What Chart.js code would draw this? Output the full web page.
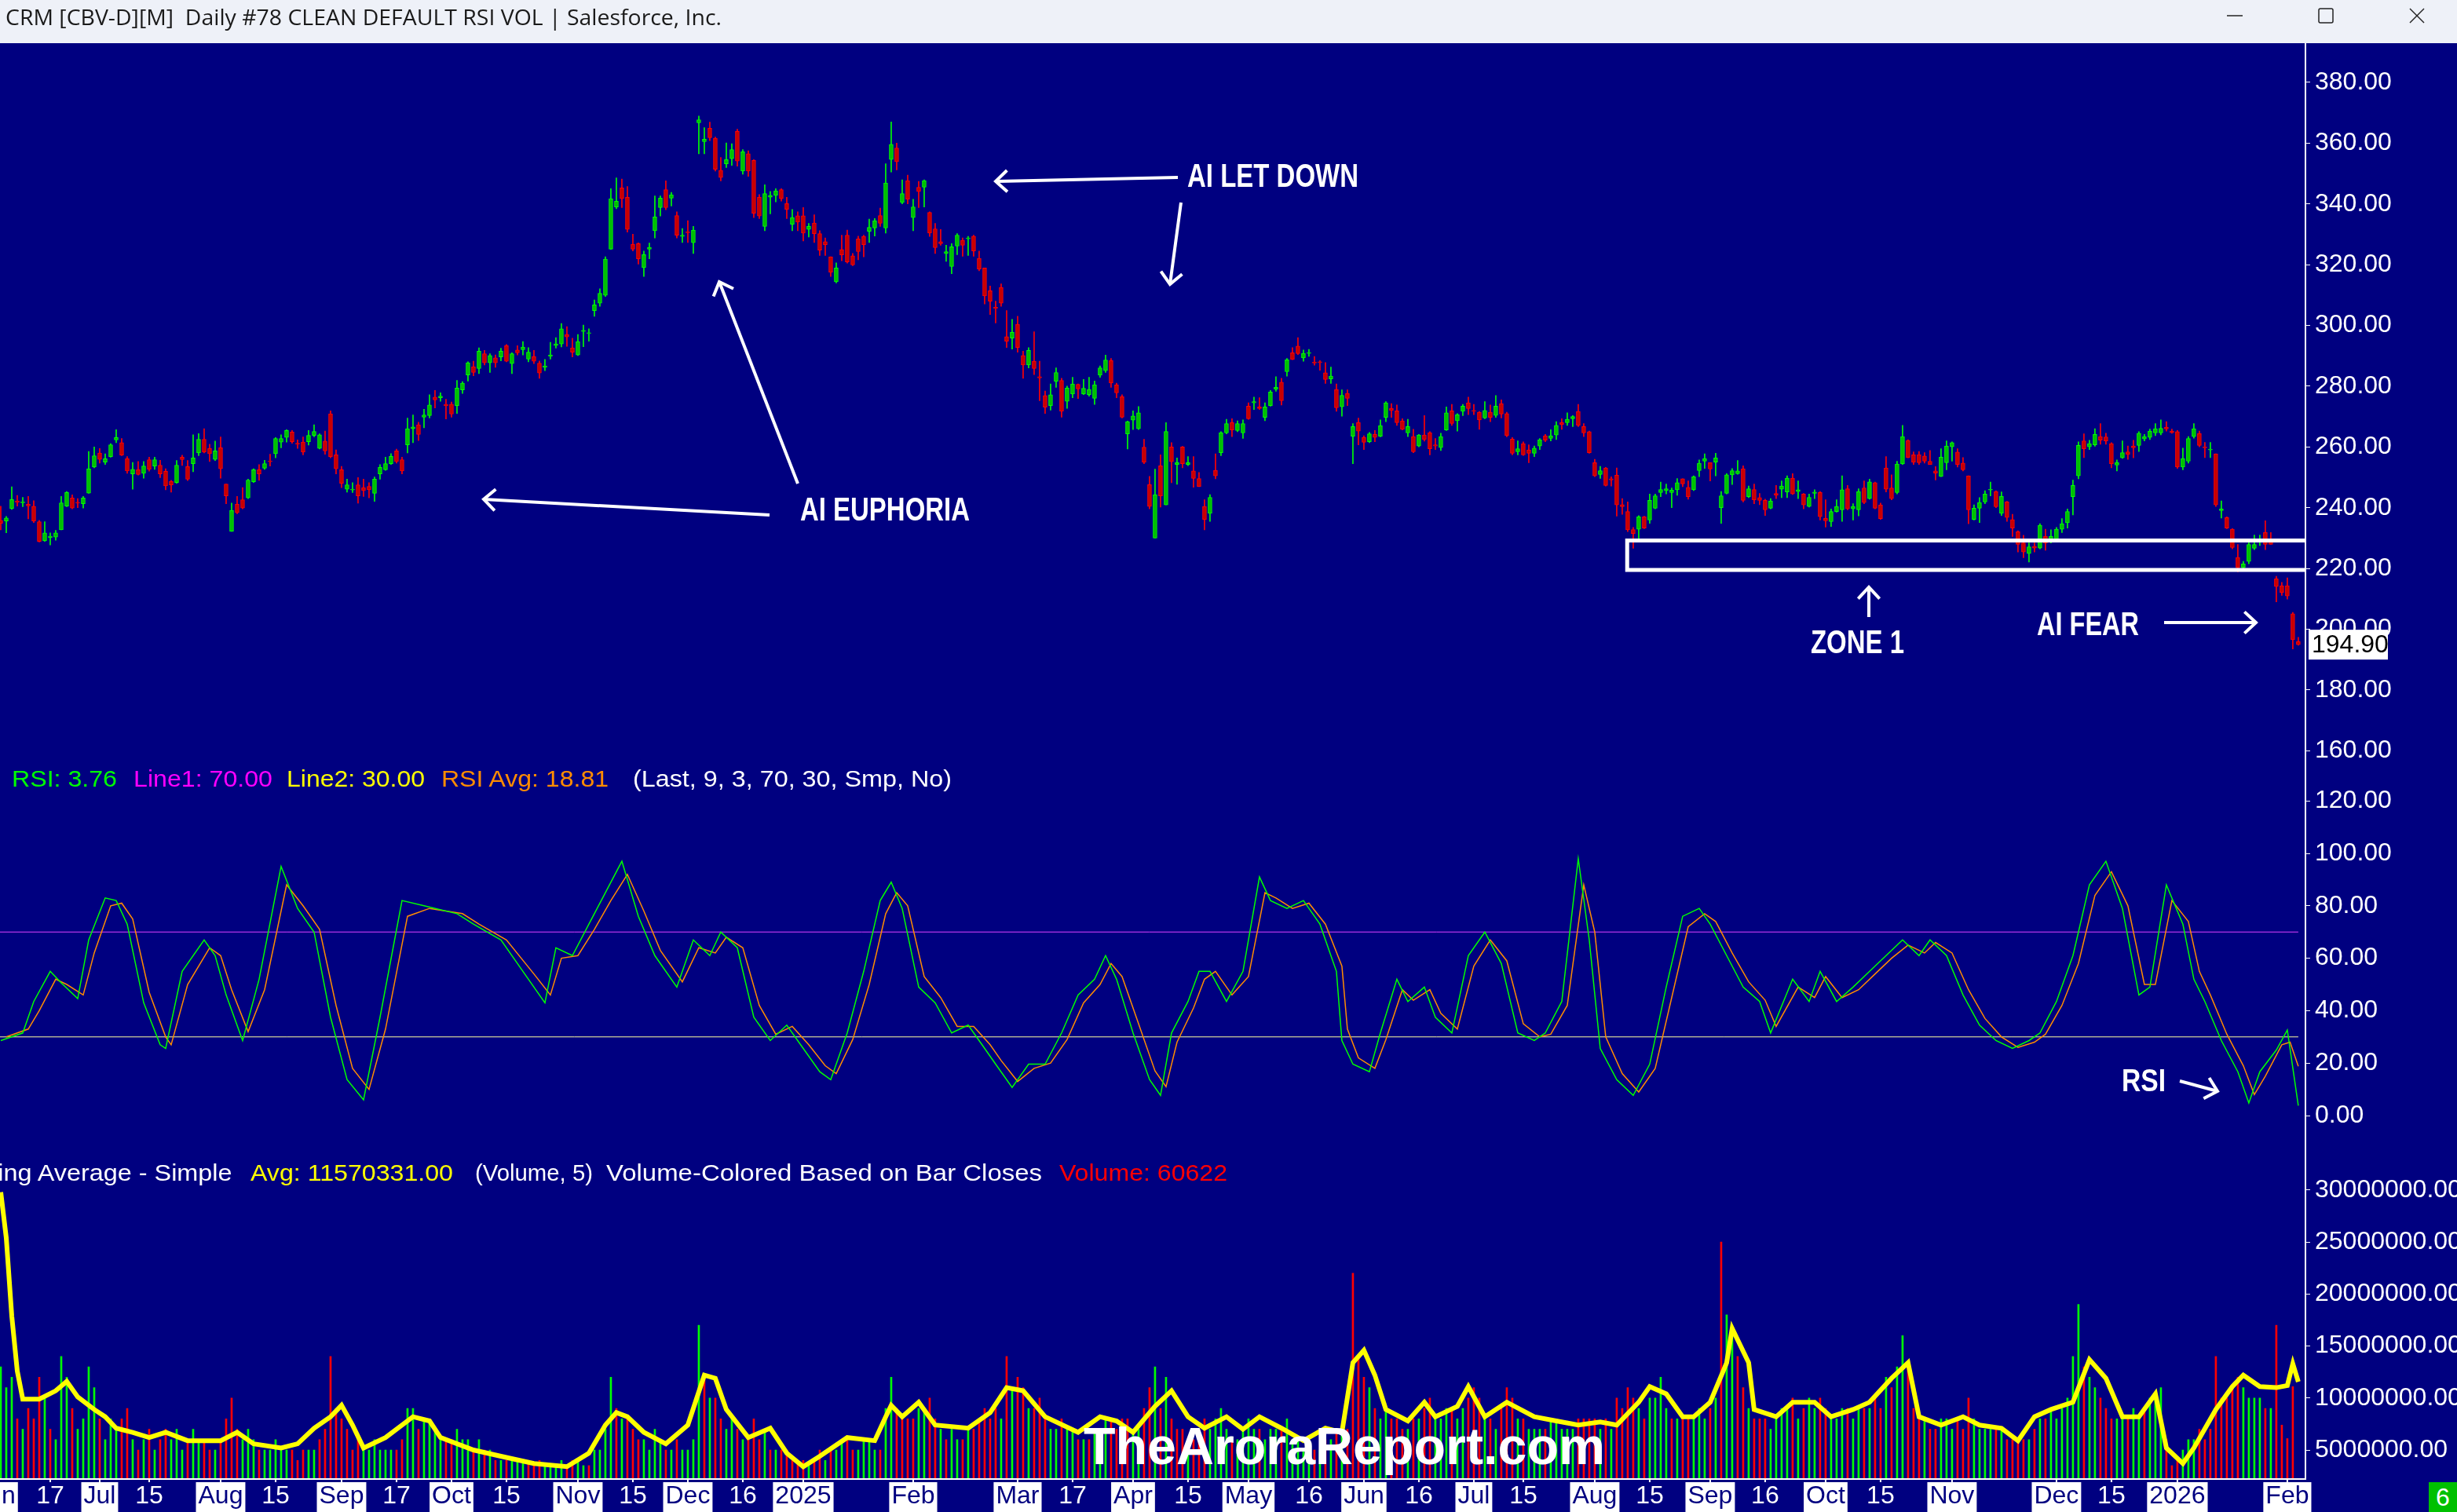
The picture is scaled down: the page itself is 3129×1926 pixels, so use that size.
<!DOCTYPE html>
<html><head><meta charset="utf-8">
<script src="https://cdn.jsdelivr.net/npm/chart.js@4.4.1/dist/chart.umd.min.js"></script>
<style>
html,body{margin:0;padding:0;}
body{width:3129px;height:1926px;background:#000080;overflow:hidden;position:relative;}
#bar{position:absolute;left:0;top:0;width:3129px;height:55px;background:#eef1f8;}
canvas{position:absolute;left:0;}
.t{position:absolute;white-space:pre;transform-origin:0 0;z-index:6;}
#ov{position:absolute;left:0;top:0;z-index:5;}
</style></head>
<body>
<div id="bar"></div>
<canvas id="cP" width="3129" height="925" style="top:55px"></canvas>
<canvas id="cR" width="3129" height="490" style="top:980px"></canvas>
<canvas id="cV" width="3129" height="456" style="top:1470px"></canvas>
<svg id="ov" width="3129" height="1926" xmlns="http://www.w3.org/2000/svg"></svg>
<script>
// ================= DATA =================
const open = [
235.8,235.6,239.7,242.2,241.6,241.1,240.5,235.4,229.1,230.2,
230.3,232.7,240.5,243.2,241.8,241.3,244.8,253.4,258.0,255.0,
256.8,262.3,261.4,256.1,251.1,252.5,251.3,255.8,253.7,254.0,
252.0,248.7,248.3,256.6,253.5,254.5,258.0,262.5,259.5,255.9,
259.7,247.8,232.2,241.1,242.6,243.2,248.5,252.5,253.0,255.4,
257.8,261.6,263.1,264.9,261.2,261.6,261.7,263.8,259.5,261.9,
270.9,257.4,252.5,246.1,245.8,247.5,246.6,247.0,244.7,251.1,
252.5,254.5,258.7,255.8,260.7,266.0,267.3,269.8,270.3,276.4,
276.2,274.0,274.1,273.6,278.8,283.7,286.4,285.8,290.7,287.7,
289.3,289.6,293.3,287.4,291.9,292.0,288.9,289.8,287.6,286.2,
289.9,293.4,293.9,297.0,292.6,290.3,298.0,297.3,304.9,307.3,
309.9,325.1,339.0,345.3,342.2,326.7,326.9,319.0,325.1,331.2,
338.8,344.7,341.9,336.2,329.3,330.8,327.2,366.7,360.5,364.9,
361.6,351.1,353.2,354.9,363.9,350.8,356.5,354.3,342.2,332.6,
342.2,342.8,344.7,340.1,333.3,336.1,336.1,331.6,333.7,330.2,
327.6,322.6,314.4,325.0,329.7,322.9,328.5,329.3,331.0,332.1,
336.2,332.1,354.6,358.4,340.5,347.7,335.5,345.5,345.5,337.2,
331.8,327.6,323.7,319.4,326.1,328.0,328.5,329.4,322.1,318.9,
311.4,306.0,312.5,296.3,295.8,300.4,290.1,287.0,288.2,283.1,
276.9,273.6,281.6,281.9,275.0,277.4,280.6,277.4,277.2,276.0,
283.6,285.1,288.4,280.5,276.5,264.3,268.8,266.0,259.9,247.6,
230.0,253.8,240.9,260.0,254.2,260.0,254.2,252.1,249.6,240.4,
238.1,252.3,258.1,264.6,268.0,265.4,264.6,273.4,274.5,273.2,
269.7,273.6,279.0,281.3,284.8,291.0,293.2,289.3,290.8,287.9,
288.0,284.4,282.4,278.9,273.2,277.6,263.5,268.0,263.1,261.7,
264.1,263.5,269.7,272.7,271.9,268.6,264.6,263.4,260.3,263.9,
264.7,260.7,259.8,265.6,271.9,268.6,271.7,274.5,272.0,271.4,
269.5,271.4,270.4,274.3,271.0,262.6,258.4,261.1,259.0,257.9,
260.3,263.7,262.8,263.9,268.0,268.0,269.3,271.7,266.7,265.0,
254.8,250.9,253.1,249.5,250.7,241.0,238.7,232.8,232.9,237.0,
235.9,239.8,245.0,245.6,245.0,245.9,249.5,246.7,245.9,252.2,
255.3,254.8,255.0,240.0,244.7,250.8,251.2,252.8,243.6,246.0,
243.3,242.4,239.8,244.7,246.1,245.2,249.7,245.3,244.5,240.4,
244.7,245.0,236.5,235.4,238.7,239.3,246.2,239.6,239.3,246.5,
243.0,248.2,240.9,253.1,246.5,245.0,254.4,262.1,257.5,257.5,
257.0,255.3,252.1,250.3,254.8,260.0,258.3,254.7,250.5,236.1,
239.8,241.9,245.8,245.3,238.1,241.9,236.1,232.1,228.4,224.9,
227.3,226.7,230.5,229.7,229.5,232.9,235.0,243.6,250.5,262.0,
260.0,260.7,263.4,263.3,261.1,254.0,256.4,258.4,260.3,260.5,
262.6,263.1,264.6,264.6,266.5,265.2,265.0,253.4,255.3,263.4,
264.4,260.0,259.0,257.7,239.0,236.7,232.9,223.6,220.2,222.3,
226.6,228.6,231.8,229.7,216.6,214.3,214.3,205.1,195.9];
const high = [
240.5,237.1,246.9,244.0,243.4,243.7,242.3,235.8,235.4,231.7,
232.5,243.7,245.3,244.2,243.0,243.7,258.5,260.0,259.5,257.7,
261.1,265.7,262.8,256.8,254.9,255.2,255.2,256.6,256.6,255.6,
252.8,249.0,255.5,257.3,255.5,264.0,264.4,266.0,260.9,261.9,
263.3,247.8,241.5,243.7,246.6,249.4,252.8,254.2,255.6,257.6,
263.1,264.0,265.7,265.4,262.3,263.3,265.4,267.3,264.3,265.2,
271.9,259.0,253.6,249.4,248.2,249.9,249.4,248.2,250.1,254.2,
256.6,257.8,259.3,256.6,269.5,270.5,268.1,272.4,277.2,278.6,
277.8,275.7,274.8,281.9,281.5,288.0,288.2,292.6,291.8,290.7,
290.3,292.5,293.7,291.0,293.3,294.7,292.7,291.8,288.3,288.8,
294.4,296.0,300.6,299.6,295.8,297.0,300.1,298.9,308.4,312.1,
322.6,345.0,348.6,348.2,345.7,330.0,327.2,324.5,327.1,342.6,
342.6,347.6,343.8,337.4,331.9,334.5,332.6,368.9,365.1,366.9,
362.0,355.3,360.1,359.8,364.6,357.9,357.5,354.6,343.1,346.3,
344.1,345.0,345.0,342.2,338.2,337.4,338.8,333.6,336.4,331.2,
328.8,322.6,320.6,329.7,331.4,323.7,329.4,329.7,335.0,335.2,
338.6,353.2,367.0,360.0,347.9,349.5,341.5,347.4,347.9,337.4,
333.6,331.6,326.4,326.9,330.2,328.8,329.3,329.7,324.5,318.9,
313.0,308.0,313.7,304.9,302.0,303.0,291.5,292.7,297.9,288.2,
278.4,280.7,286.0,282.6,280.0,282.9,280.7,282.2,282.9,281.7,
286.7,290.2,289.1,281.0,277.2,268.5,271.9,273.3,262.5,250.3,
252.7,257.4,268.0,261.4,256.4,260.2,256.8,256.8,251.6,242.6,
244.3,257.7,265.0,269.1,269.3,268.6,268.9,274.5,276.4,276.2,
274.5,278.6,283.1,282.6,289.1,292.7,296.0,291.9,292.1,289.8,
288.4,287.8,286.3,280.7,278.8,278.8,267.7,269.5,263.7,264.8,
265.4,268.9,274.9,274.3,273.8,269.3,269.1,265.8,264.1,270.3,
265.0,262.8,264.5,273.2,274.0,271.0,274.0,276.4,274.0,271.7,
274.9,273.8,276.9,275.5,271.4,263.1,262.0,261.7,260.7,260.3,
262.8,264.1,265.7,268.3,269.3,271.2,270.3,274.0,267.7,265.2,
255.9,253.6,253.3,250.2,253.1,243.0,241.9,233.5,237.4,237.2,
244.5,244.5,248.4,247.8,246.5,249.6,249.5,248.8,250.5,255.7,
257.7,254.8,257.9,245.3,251.2,252.9,255.5,253.8,247.1,247.8,
244.7,242.8,243.0,247.3,248.8,250.5,251.2,248.8,244.7,244.5,
245.9,245.3,242.6,239.6,242.6,250.5,247.3,241.3,246.2,248.8,
249.4,248.4,241.5,256.8,250.8,255.3,267.1,262.4,258.4,258.5,
258.1,258.8,253.5,259.4,262.0,261.7,259.4,256.5,250.5,240.9,
243.3,245.6,248.4,245.6,245.2,242.1,237.8,232.4,230.9,228.4,
228.4,234.7,232.9,232.7,233.5,236.4,239.6,249.1,261.7,264.3,
262.2,266.0,267.7,264.5,261.4,255.7,262.0,260.3,262.2,265.0,
264.1,265.9,267.7,268.9,268.3,265.9,265.4,259.6,263.4,267.7,
265.2,261.5,261.5,257.7,242.2,237.0,233.1,227.9,222.3,228.8,
231.0,231.0,235.7,231.8,217.4,215.4,216.9,205.5,197.3];
const low = [
232.7,231.7,239.4,240.5,240.3,236.3,235.1,228.7,228.9,227.7,
229.3,232.7,240.3,239.6,240.0,239.9,244.7,253.1,254.7,254.2,
256.6,261.4,257.1,251.3,246.1,250.7,249.7,252.0,252.6,249.9,
245.9,245.1,248.0,253.9,248.9,251.8,257.1,258.0,255.2,255.5,
249.7,241.3,232.2,238.0,239.6,243.0,248.3,249.0,252.6,253.7,
256.4,259.7,261.6,261.2,259.5,257.4,260.6,263.3,259.3,257.6,
256.4,251.1,246.6,245.1,245.0,241.5,243.7,243.2,242.1,249.4,
252.3,254.2,254.7,251.1,258.0,261.4,262.1,266.3,269.5,272.8,
275.0,269.2,269.8,271.0,277.6,281.7,283.4,284.1,287.0,284.5,
286.2,288.3,288.0,284.1,290.3,290.3,288.0,287.4,282.6,285.1,
288.9,292.5,292.9,293.1,289.6,290.1,293.0,294.8,303.0,306.3,
309.5,325.0,338.4,338.8,330.7,324.5,320.2,316.1,321.9,328.8,
336.0,338.1,339.3,328.8,327.3,327.3,323.7,356.5,356.5,360.8,
350.8,347.6,352.0,352.7,352.4,349.8,349.1,335.5,335.2,331.2,
336.7,340.7,340.9,335.2,331.2,331.2,327.8,329.1,327.3,323.0,
323.0,316.1,314.0,321.3,320.5,319.7,321.6,322.6,327.3,329.4,
332.6,330.4,350.5,351.2,340.0,340.0,331.2,338.8,339.0,329.3,
323.7,326.4,321.1,317.0,323.3,322.8,323.0,322.8,318.0,307.1,
303.6,300.8,306.3,292.7,292.2,291.2,282.6,286.0,283.8,275.2,
271.0,272.1,279.6,269.8,272.7,276.2,275.9,277.2,276.7,274.0,
282.9,284.5,279.6,276.2,269.5,259.3,265.7,265.7,254.5,239.6,
230.0,240.2,240.9,248.2,247.7,253.1,253.8,246.7,246.9,232.7,
235.5,249.5,257.1,264.3,263.4,265.0,262.8,269.1,272.3,272.3,
268.6,273.4,278.3,273.8,283.3,288.7,290.4,288.2,289.8,286.9,
285.2,280.9,280.9,271.7,270.1,273.6,254.5,260.7,259.1,261.4,
261.7,263.3,268.3,269.7,267.1,265.6,263.4,258.1,260.0,261.9,
257.4,259.1,258.8,265.4,267.1,265.2,270.3,270.6,270.6,265.8,
269.3,268.3,269.7,269.5,263.3,257.4,257.4,257.2,254.8,256.8,
259.1,261.7,262.0,262.4,265.8,267.1,266.7,266.7,263.4,257.9,
250.2,249.6,247.1,247.1,237.2,237.8,232.1,226.6,229.8,233.1,
234.8,239.6,243.6,244.5,240.0,244.1,246.9,242.8,245.6,250.2,
252.9,248.8,250.5,234.8,244.5,247.6,251.0,241.9,243.3,241.3,
241.0,237.4,239.6,243.0,243.3,243.3,244.3,243.0,239.6,240.2,
243.0,235.9,233.6,233.8,238.5,235.5,239.3,235.9,237.3,241.3,
242.8,239.6,236.1,245.2,242.6,244.5,254.2,256.4,254.2,254.2,
254.7,254.2,249.1,250.2,252.5,255.3,253.4,252.1,234.7,235.9,
235.1,241.3,243.9,240.0,237.4,235.5,230.5,225.4,223.5,222.1,
225.4,226.4,226.0,228.4,228.8,231.8,233.3,237.6,249.5,256.5,
259.1,260.2,260.9,260.9,253.1,252.1,256.2,255.9,256.4,258.5,
262.0,262.4,263.7,264.0,265.2,264.5,252.9,252.5,254.7,262.9,
260.0,256.5,256.5,240.4,236.6,233.1,226.4,218.9,219.5,221.5,
226.2,227.5,226.2,227.9,209.0,211.1,209.9,193.5,194.7];
const close = [
234.8,236.6,242.7,241.8,241.9,240.6,235.6,228.9,231.7,230.6,
231.7,241.6,245.0,239.9,241.5,243.2,252.8,257.1,255.9,256.1,
260.7,263.1,257.3,252.1,252.6,250.9,253.7,252.6,255.8,251.1,
247.2,247.5,254.0,255.8,249.4,256.4,262.5,258.3,257.8,258.7,
252.8,243.9,239.1,238.3,239.9,249.1,252.5,251.1,254.5,255.1,
262.8,262.8,265.4,261.7,260.9,258.3,263.8,265.1,264.0,258.7,
256.8,252.8,248.0,247.5,246.1,243.9,245.6,245.9,249.4,253.3,
254.5,256.9,255.2,252.1,266.0,266.6,264.1,270.5,273.8,275.5,
276.7,273.6,270.8,279.4,281.0,287.7,284.5,291.5,287.7,290.1,
287.7,291.5,288.2,290.7,291.0,292.9,291.2,288.2,284.3,286.7,
290.3,293.9,298.9,296.2,291.2,294.7,298.4,297.6,306.8,310.6,
321.8,341.7,340.9,341.7,331.6,325.1,321.9,323.3,325.7,335.7,
341.9,338.8,343.0,329.7,329.7,330.5,331.4,367.7,361.3,361.8,
351.4,348.7,354.6,357.9,354.1,357.2,350.8,336.9,336.0,343.4,
342.8,344.3,341.7,338.2,335.5,334.0,330.4,332.6,330.2,324.8,
326.6,317.5,318.9,323.2,320.9,319.9,324.3,326.6,332.3,334.5,
333.6,346.9,359.6,353.9,343.4,341.5,339.0,344.1,347.7,330.4,
325.6,326.9,324.3,325.9,329.7,326.4,328.8,324.5,318.5,309.7,
308.0,305.6,307.3,294.8,297.7,292.7,287.0,291.8,285.8,282.7,
273.1,277.2,284.5,271.7,279.4,280.7,279.1,279.3,278.9,280.5,
286.0,288.6,281.0,277.8,269.8,268.3,270.2,271.2,254.9,240.4,
244.3,243.9,265.1,255.1,254.8,254.5,254.8,249.6,247.0,236.1,
243.4,250.5,264.7,267.7,265.6,267.7,267.7,269.3,274.9,272.6,
273.2,278.1,279.6,275.2,288.7,288.8,290.7,290.8,291.1,287.6,
287.8,282.2,283.3,272.9,277.0,276.0,266.7,265.2,261.5,264.3,
263.1,267.0,274.5,272.0,268.0,265.8,266.7,258.4,263.9,262.4,
259.4,260.3,263.4,271.2,267.7,270.6,273.4,272.6,271.7,268.9,
272.0,269.7,273.4,270.8,263.7,257.9,259.4,257.4,257.9,259.6,
262.4,262.2,263.7,267.1,267.4,269.1,270.0,267.1,264.6,258.1,
250.5,252.2,247.3,249.1,240.9,240.3,232.7,231.5,237.0,233.3,
242.4,243.9,246.0,246.2,245.8,248.2,247.8,243.6,250.2,254.6,
256.2,252.7,256.4,243.9,250.8,252.2,252.1,242.4,246.2,242.6,
242.4,239.3,242.2,244.1,247.1,249.7,244.5,245.9,240.9,243.4,
245.1,237.0,235.7,238.7,240.4,245.9,239.6,240.4,245.3,241.7,
248.5,239.8,236.4,246.1,243.0,254.4,263.4,256.5,254.9,254.8,
255.3,254.2,251.4,256.6,260.3,261.4,254.2,252.5,239.3,239.8,
241.7,244.5,246.0,240.3,243.7,236.8,233.3,227.9,225.4,227.1,
226.7,234.2,228.4,230.5,232.9,234.7,238.7,247.3,260.5,259.4,
261.1,264.1,262.2,262.0,254.5,254.8,258.1,257.5,259.7,264.5,
263.4,265.2,266.0,266.1,265.9,264.7,253.4,256.2,262.8,266.0,
260.5,259.7,259.2,240.9,239.6,233.3,226.9,220.2,221.5,227.9,
227.9,228.8,227.9,227.9,214.0,212.0,210.9,196.5,194.9];
// volume in millions of shares
const volumeM = [
13,11,12,8,7,9,8,12,10,7,
6,14,12,9,7,8,13,11,8,6,
8,7,8,9,6,5,6,7,5,6,
7,6,7,5,6,7,6,6,5,5,
6,8,10,7,6,7,6,5,5,5,
6,5,5,5,4,5,5,5,6,7,
14,9,8,7,5,6,5,5,6,5,
5,5,5,6,9,9,7,8,8,7,
6,6,6,7,6,6,5,6,5,5,
4,4,4,4,4,4,4,3.5,4,3.5,
3.5,3.5,4,3.5,4,4,3.5,3.5,5,5,
7,12,9,8,8,7,6,6,5,7,
6,5,5,6,5,5,6,17,12,10,
10,8,7,8,7,6,6,8,6,7,
5,5,5,5,4,4,4,3.5,4,5,
4,5,5,6,6,5,5,6,6,5,
5,9,12,9,8,8,8,9,9,10,
8,7,6,7,6,6,7,7,8,9,
8,9,8,14,11,12,11,9,9,10,
8,7,7,8,7,7,6,6,6,7,
7,8,8,7,8,8,7,7,9,11,
13,9,12,8,7,7,6,6,7,8,
7,8,9,7,6,6,7,8,7,7,
6,7,7,7,8,6,6,5,5,5,
5,6,6,7,7,7,22,14,12,11,
9,8,9,8,8,7,7,8,8,9,
10,8,8,9,9,8,9,10,11,10,
8,8,7,9,11,10,8,8,7,7,
7,7,8,8,7,7,7,8,8,8,
8,7,8,7,10,9,11,10,9,8,
10,10,12,9,8,8,8,8,8,9,
8,9,10,25,18,16,14,11,9,8,
8,8,7,8,9,9,10,8,9,10,
9,10,9,8,8,9,9,8,9,9,
9,10,9,12,11,13,16,13,9,8,
8,7,7,8,8,7,8,7,10,8,
7,7,7,7,7,6,6,6,6,6,
7,8,8,9,8,9,10,14,19,13,
12,11,10,9,8,8,8,8,9,8,
9,10,10,11,6,3.5,4,5,6,6,
7,6,7,14,10,10,11,12,11,10,
10,10,9,9,17,7.4,6.1,11.1,0.06];
// RSI (bar index, value)
const rsiPts = [[0,28.6],[4,31.5],[6,43.5],[9,55],[11,50.6],[14,44.6],[16,67],[19,83],[21,82],[23,73],[26,43],[29,27],[30,25.6],[33,55],[37,67],[39,61],[41,46],[44,28.6],[47,52],[51,95],[54,79],[57,70],[60,37.5],[63,13.7],[66,6],[69,37.5],[73,82],[77,80],[83,77],[86,73],[91,67],[96,52],[99,43],[101,64],[104,61],[107,73],[110,85],[113,97],[116,76],[119,61],[123,49],[126,67],[129,61],[131,70],[134,64],[137,37.5],[140,28.6],[143,34.5],[146,25.6],[149,16.7],[151,13.7],[154,31.5],[157,55],[160,82],[162,89],[164,79],[167,49],[170,43],[173,31.5],[176,34.5],[179,25.6],[181,19.6],[184,10.7],[187,19.6],[190,19.6],[193,31.5],[196,46],[199,52],[201,61],[203,52],[206,31.5],[209,13.7],[211,7.7],[213,31.5],[216,43.5],[218,55],[220,55],[223,43.5],[226,55],[229,91],[231,82],[234,79],[237,82],[240,73],[243,55],[244,28.6],[246,19.6],[249,16.7],[251,31.5],[254,52],[256,43.5],[259,49],[261,37.5],[264,31.5],[267,61],[270,70],[273,58],[276,31.5],[279,28.6],[281,31.5],[284,43.5],[287,98],[289,67],[291,25.6],[294,13.7],[297,7.7],[300,19.6],[303,49],[306,76],[309,79],[311,73],[314,61],[317,49],[320,43.5],[322,31.5],[326,52],[329,43.5],[331,55],[334,43.5],[337,49],[340,55],[343,61],[346,67],[349,61],[351,67],[354,61],[357,46],[360,34.5],[363,28.6],[366,25.6],[369,28.6],[371,31.5],[374,43.5],[377,61],[380,88],[383,97],[386,79],[389,46],[391,49],[394,88],[397,73],[399,52],[401,43.5],[404,28.6],[407,16.7],[409,4.8],[411,16.7],[414,25],[416,32.6],[418,3.76]];
const rsiAvgPts = [[1,30],[5,33],[7,40],[10,52],[12,50],[15,46],[17,62],[20,80],[22,81],[24,75],[27,47],[30,30],[31,27],[34,50],[38,64],[40,61],[42,48],[45,32],[48,48],[52,88],[55,80],[58,71],[61,42],[64,18],[67,10],[70,33],[74,76],[78,79],[84,77],[87,73],[92,67],[97,54],[100,46],[102,60],[105,61],[108,71],[111,82],[114,92],[117,78],[120,63],[124,51],[127,64],[130,62],[132,68],[135,64],[138,42],[141,31],[144,34],[147,27],[150,19],[152,16],[155,29],[158,50],[161,77],[163,85],[165,80],[168,53],[171,45],[174,34],[177,34],[180,27],[182,21],[185,13],[188,18],[191,20],[194,29],[197,43],[200,50],[202,58],[204,53],[207,35],[210,17],[212,11],[214,28],[217,41],[219,52],[221,55],[224,46],[227,53],[230,85],[232,83],[235,79],[238,81],[241,73],[244,57],[245,33],[247,22],[250,18],[252,29],[255,48],[257,44],[260,48],[262,39],[265,33],[268,57],[271,67],[274,59],[277,35],[280,30],[282,31],[285,42],[288,88],[290,70],[292,30],[295,16],[298,9],[301,18],[304,45],[307,72],[310,77],[312,74],[315,62],[318,51],[321,44],[323,34],[327,49],[330,45],[332,53],[335,45],[338,48],[341,54],[344,60],[347,65],[350,62],[352,66],[355,62],[358,48],[361,37],[364,30],[367,26],[370,28],[372,31],[375,42],[378,58],[381,84],[384,93],[387,80],[390,50],[392,50],[395,82],[398,74],[400,55],[402,46],[405,31],[408,19],[410,8],[412,15],[415,27],[416.5,28],[418,18.81]];
// 5-bar volume average (bar index, millions)
const volMaPts = [[0,29.8],[1,25.4],[2,17.9],[3,12.6],[4,9.9],[7,9.9],[10,10.7],[12,11.6],[14,10.1],[17,8.9],[19,8.2],[21,7.1],[24,6.7],[27,6.2],[30,6.7],[34,5.9],[40,5.9],[43,6.7],[46,5.6],[51,5.2],[54,5.6],[57,7.1],[60,8.2],[62,9.3],[64,7.4],[66,5.2],[70,6.2],[75,8.2],[78,7.8],[80,6.2],[86,5.0],[91,4.4],[97,3.7],[103,3.4],[107,4.7],[110,7.4],[112,8.6],[114,8.2],[117,6.7],[121,5.6],[125,7.4],[128,12.2],[130,11.9],[132,8.9],[136,6.2],[140,7.1],[143,4.7],[146,3.4],[149,4.4],[154,6.2],[159,5.9],[161,8.2],[162,9.3],[164,8.2],[167,9.6],[170,7.4],[176,7.1],[180,8.6],[183,11],[186,10.7],[190,8.2],[196,6.7],[200,8.2],[203,7.8],[206,6.7],[210,9.2],[213,10.7],[216,8.2],[219,7.1],[223,8.2],[226,7.0],[229,8.2],[233,7.1],[237,5.9],[241,7.1],[244,6.7],[246,13.4],[248,14.6],[250,12.2],[252,8.9],[256,7.8],[259,9.6],[261,8.2],[265,9.2],[267,11.1],[270,8.2],[274,9.6],[279,8.2],[283,7.8],[287,7.4],[291,7.7],[294,7.4],[298,9.6],[300,11.1],[303,10.4],[306,8.2],[308,8.2],[311,9.6],[314,13.4],[315,16.7],[318,13.4],[319,8.9],[323,8.2],[326,9.6],[330,9.6],[333,8.2],[337,8.9],[340,9.6],[344,11.9],[347,13.4],[349,8.2],[353,7.4],[357,8.2],[360,7.4],[364,7.1],[367,5.9],[370,8.2],[373,8.9],[377,9.6],[380,13.7],[383,11.9],[386,8.2],[389,8.2],[392,10.4],[394,5.2],[397,3.7],[399,5.2],[403,8.9],[406,11.1],[408,12.2],[411,11.1],[414,11.0],[416,11.2],[417,13.3],[418,11.57]];
// time axis: bar index of each label and its text
const xTickIdx = [-1,9,18,27,40,50,62,72,82,92,105,115,125,135,146,166,185,195,206,216,227,238,248,258,268,277,290,300,311,321,332,342,355,374,384,396,416];
const xTickLbl = ["Jun","17","Jul","15","Aug","15","Sep","17","Oct","15","Nov","15","Dec","16","2025","Feb","Mar","17","Apr","15","May","16","Jun","16","Jul","15","Aug","15","Sep","16","Oct","15","Nov","Dec","15","2026","Feb"];
const priceTicks = [160,180,200,220,240,260,280,300,320,340,360,380];
const rsiTicks = [0,20,40,60,80,100,120];
const volTicksM = [5,10,15,20,25,30];
const rsiLevels = [70,30];
const zone = {fromIdx:295.9, lo:219.5, hi:229.2};

// ================= CHARTS =================
const XMIN=-0.14, XMAX=419.3;
const FONT='"Liberation Sans", Arial, sans-serif';
const GREEN='#00ff00', RED='#ff0000';
const N = close.length, idx = close.map((_,i)=>i);
const up = i => close[i] >= open[i];

function yAxis(min,max,ticks,fmt){
  return {position:'right',min:min,max:max,
    afterBuildTicks:s=>{s.ticks=ticks.map(v=>({value:v}));},
    afterFit:s=>{s.width=193;s.paddingTop=0;s.paddingBottom=0;},
    grid:{drawOnChartArea:false,drawTicks:true,tickLength:6,color:'#ffffff',lineWidth:1},
    border:{display:true,color:'#ffffff',width:2},
    ticks:{color:'#ffffff',font:{family:FONT,size:32},padding:6,callback:fmt,autoSkip:false}
  };
}
function opts(y,bottom){
  return {responsive:false,animation:false,devicePixelRatio:1,
    layout:{padding:{left:0,right:0,top:0,bottom:bottom||0}},
    plugins:{legend:{display:false},tooltip:{enabled:false}},
    scales:{x:{type:'linear',min:XMIN,max:XMAX,display:false,offset:false,grid:{offset:false},bounds:'data'},y:y}};
}
const f2 = v => Number(v).toFixed(2);

const pricePlugin = {id:'pp', afterDraw(chart){
  const {ctx,scales:{x,y},chartArea:ca}=chart;
  ctx.save();
  ctx.strokeStyle='#ffffff'; ctx.lineWidth=5;
  const x0=x.getPixelForValue(zone.fromIdx), yt=y.getPixelForValue(zone.hi), yb=y.getPixelForValue(zone.lo);
  ctx.beginPath(); ctx.moveTo(ca.right,yt); ctx.lineTo(x0,yt); ctx.lineTo(x0,yb); ctx.lineTo(ca.right,yb); ctx.stroke();
  const last=close[N-1], yl=y.getPixelForValue(last);
  ctx.fillStyle='#ffffff'; ctx.fillRect(ca.right+4, yl-19, 101, 38);
  ctx.fillStyle='#000000'; ctx.font='32px '+FONT; ctx.textBaseline='middle'; ctx.textAlign='left';
  ctx.fillText(last.toFixed(2), ca.right+8, yl+1);
  ctx.restore();
}};
new Chart(document.getElementById('cP'),{type:'bar',
  data:{datasets:[
    {order:0,grouped:false,barThickness:5,minBarLength:1,borderWidth:1,borderSkipped:false,
     data:idx.map(i=>({x:i,y:[Math.min(open[i],close[i]),Math.max(open[i],close[i])]})),
     backgroundColor:c=>c.dataIndex===undefined?'#00c000':(up(c.dataIndex)?'#00c000':'#c80000'),
     borderColor:c=>c.dataIndex===undefined?GREEN:(up(c.dataIndex)?GREEN:RED)},
    {order:1,grouped:false,barThickness:1,borderWidth:0,
     data:idx.map(i=>({x:i,y:[low[i],high[i]]})),
     backgroundColor:c=>c.dataIndex===undefined?GREEN:(up(c.dataIndex)?GREEN:RED)}
  ]},
  options:opts(yAxis(153.85,392.92,priceTicks,f2)),
  plugins:[pricePlugin]});

new Chart(document.getElementById('cR'),{type:'line',
  data:{datasets:[
    {order:0,data:rsiPts,borderColor:'#00ff00',borderWidth:1.5,pointRadius:0,tension:0},
    {order:1,data:rsiAvgPts,borderColor:'#ff8c00',borderWidth:1.5,pointRadius:0,tension:0},
    {order:2,data:[[XMIN,rsiLevels[0]],[N-1,rsiLevels[0]]],borderColor:'#e040ff',borderWidth:1,pointRadius:0},
    {order:3,data:[[XMIN,rsiLevels[1]],[N-1,rsiLevels[1]]],borderColor:'#ffffa0',borderWidth:1,pointRadius:0}
  ]},
  options:opts(yAxis(-14.67,132.04,rsiTicks,f2))});

const xAxisPlugin = {id:'xa', afterDraw(chart){
  const {ctx,scales:{x},chartArea:ca}=chart;
  ctx.save();
  ctx.fillStyle='#ffffff'; ctx.fillRect(0,ca.bottom-1,ca.right,2);
  ctx.font='32px '+FONT; ctx.textBaseline='middle'; ctx.textAlign='center';
  xTickIdx.forEach((ti,k)=>{
    const px=x.getPixelForValue(ti), lbl=xTickLbl[k];
    const isDay=/^\d{1,2}$/.test(lbl);
    const w=ctx.measureText(lbl).width;
    ctx.fillStyle='#ffffff'; ctx.fillRect(px-1,ca.bottom,2,5);
    ctx.fillStyle=isDay?'#000080':'#ffffff';
    ctx.fillRect(px-w/2-3,ca.bottom+4,w+6,38);
    ctx.fillStyle=isDay?'#ffffff':'#000080';
    ctx.fillText(lbl,px,ca.bottom+22);
  });
  ctx.restore();
}};
new Chart(document.getElementById('cV'),{type:'bar',
  data:{datasets:[
    {type:'line',order:0,data:volMaPts,borderColor:'#ffff00',borderWidth:6,pointRadius:0,tension:0},
    {order:1,grouped:false,barThickness:2,borderWidth:0,
     data:idx.map(i=>({x:i,y:volumeM[i]})),
     backgroundColor:c=>{const i=c.dataIndex; if(i===undefined)return GREEN; return (i===0||close[i]>=close[i-1])?GREEN:RED;}}
  ]},
  options:opts(yAxis(2.21,33.47,volTicksM,v=>(v*1e6).toFixed(2)),42),
  plugins:[xAxisPlugin]});

// ================= TEXT & ANNOTATIONS =================
function txt(s,left,cy,w,color,size,o){
  o=o||{};
  const d=document.createElement('div'); d.className='t'; d.textContent=s;
  d.style.left=left+'px'; d.style.top=(cy-size*0.55)+'px';
  d.style.fontSize=size+'px'; d.style.lineHeight=(size*1.1)+'px';
  d.style.color=color; d.style.fontFamily=o.family||FONT; d.style.fontWeight=o.weight||'normal';
  document.body.appendChild(d);
  const nat=d.getBoundingClientRect().width;
  const sc=w?w/nat:(o.scale||1);
  d.style.transform='scaleX('+sc+')';
  if(o.rightAt!==undefined) d.style.left=(o.rightAt-nat*sc)+'px';
  return d;
}
const BOLDN='"Liberation Sans Narrow","Liberation Sans",Arial,sans-serif';
txt('CRM [CBV-D][M]  Daily #78 CLEAN DEFAULT RSI VOL | Salesforce, Inc.',7,21,912,'#1a1a1a',28,{family:'"Open Sans","Noto Sans",sans-serif'});
txt('RSI: 3.76',15,991,134,'#00ff00',30);
txt('Line1: 70.00',170,991,177,'#ff00ff',30);
txt('Line2: 30.00',365,991,176,'#ffff00',30);
txt('RSI Avg: 18.81',562,991,213,'#ff8c00',30);
txt('(Last, 9, 3, 70, 30, Smp, No)',806,991,406,'#ffffff',30);
txt('Moving Average - Simple',0,1493,null,'#ffffff',30,{rightAt:296,scale:1.08});
txt('Avg: 11570331.00',319,1493,258,'#ffff00',30);
txt('(Volume, 5)',605,1493,150,'#ffffff',30);
txt('Volume-Colored Based on Bar Closes',772,1493,555,'#ffffff',30);
txt('Volume: 60622',1349,1493,214,'#ff0000',30);
txt('AI LET DOWN',1512,224,218,'#ffffff',42,{family:BOLDN,weight:'bold'});
txt('AI EUPHORIA',1019,649,216,'#ffffff',42,{family:BOLDN,weight:'bold'});
txt('ZONE 1',2306,818,119,'#ffffff',42,{family:BOLDN,weight:'bold'});
txt('AI FEAR',2594,795,130,'#ffffff',42,{family:BOLDN,weight:'bold'});
txt('RSI',2702,1376,56,'#ffffff',40,{family:BOLDN,weight:'bold'});
txt('TheAroraReport.com',1380,1842,664,'#ffffff',66,{weight:'bold'});
const g=document.createElement('div');
g.style.cssText='position:absolute;left:3093px;top:1888px;width:36px;height:38px;background:#00c000;color:#fff;font:32px '+FONT+';line-height:38px;text-align:center;z-index:6';
g.textContent='6'; document.body.appendChild(g);

let s='';
function arrow(x1,y1,x2,y2){
  const a=Math.atan2(y2-y1,x2-x1), L=20, t=0.75;
  const p1=[x2-L*Math.cos(a-t),y2-L*Math.sin(a-t)], p2=[x2-L*Math.cos(a+t),y2-L*Math.sin(a+t)];
  s+=`<line x1="${x1}" y1="${y1}" x2="${x2}" y2="${y2}" stroke="#fff" stroke-width="4"/>`;
  s+=`<polyline points="${p1[0]},${p1[1]} ${x2},${y2} ${p2[0]},${p2[1]}" fill="none" stroke="#fff" stroke-width="4"/>`;
}
arrow(1500,226,1268,231);
arrow(1504,258,1490,362);
arrow(980,656,616,636);
arrow(1016,616,916,359);
arrow(2380,786,2380,748);
arrow(2756,793,2873,793);
arrow(2776,1377,2824,1390);
s+='<line x1="2836" y1="20" x2="2856" y2="20" stroke="#222" stroke-width="1.5"/>';
s+='<rect x="2953" y="11" width="18" height="18" rx="2" fill="none" stroke="#222" stroke-width="1.5"/>';
s+='<line x1="3069" y1="11" x2="3087" y2="29" stroke="#222" stroke-width="1.5"/><line x1="3087" y1="11" x2="3069" y2="29" stroke="#222" stroke-width="1.5"/>';
document.getElementById('ov').innerHTML=s;
</script>
</body></html>
